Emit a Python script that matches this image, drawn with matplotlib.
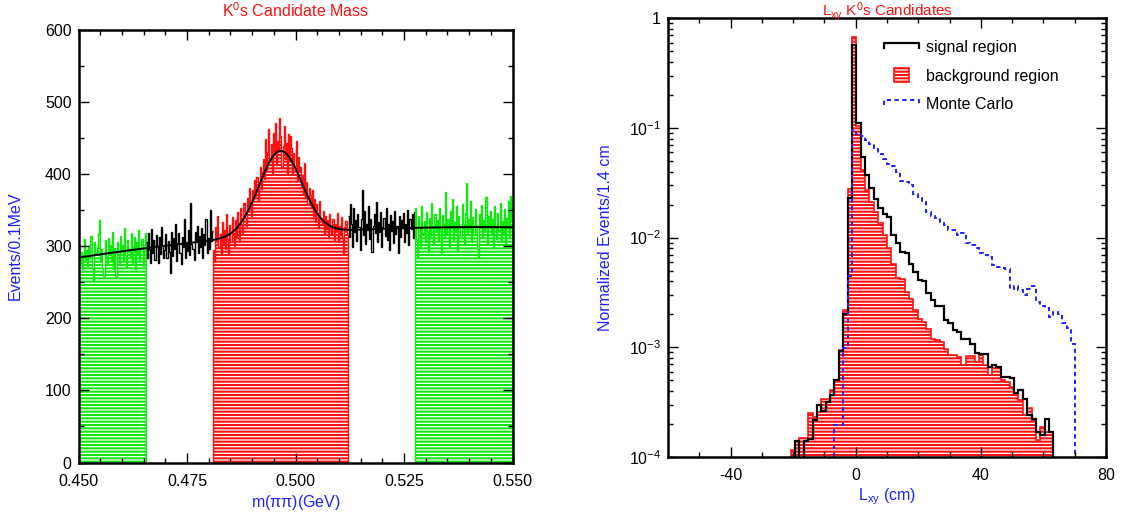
import numpy as np
import matplotlib
matplotlib.use('Agg')
import matplotlib.pyplot as plt
from matplotlib.ticker import MultipleLocator, FormatStrFormatter, LogLocator, FuncFormatter, NullFormatter
from matplotlib.lines import Line2D
from matplotlib.patches import Patch, Rectangle
from matplotlib.legend_handler import HandlerBase

plt.rcParams['font.family'] = ['Liberation Sans', 'DejaVu Sans']
plt.rcParams['mathtext.fontset'] = 'custom'
plt.rcParams['mathtext.rm'] = 'Liberation Sans'
plt.rcParams['mathtext.it'] = 'Liberation Sans:italic'
plt.rcParams['font.size'] = 11.5
plt.rcParams['hatch.linewidth'] = 1.5
plt.rcParams['axes.unicode_minus'] = False

RED = '#ff1010'
GREEN = '#10e810'
BLUE = '#2020ff'

# ---- left panel: pi pi invariant mass, 0.25 MeV bins ----
region_edges = [0.450, 0.4655, 0.481, 0.512, 0.5275, 0.550]

mass_side_lo = [
    301, 276, 292, 268, 288, 310, 281, 295, 272, 300,
    283, 314, 270, 252, 305, 290, 287, 299, 318, 336,
    279, 296, 270, 258, 308, 285, 274, 311, 293, 302,
    281, 320, 268, 297, 258, 306, 289, 276, 314, 295,
    302, 279, 325, 288, 271, 309, 296, 284, 318, 277,
    299, 312, 268, 305, 290, 322, 281, 296, 310, 273, 301, 318]

mass_gap_lo = [
    305, 284, 318, 296, 276, 323, 290, 309, 280, 315,
    298, 277, 312, 289, 326, 301, 284, 294, 317, 283,
    307, 292, 263, 320, 286, 311, 296, 331, 279, 304,
    318, 290, 275, 313, 299, 337, 284, 306, 293, 322,
    288, 360, 303, 296, 281, 319, 305, 328, 291, 314,
    299, 325, 284, 316, 302, 338, 290, 311, 296, 350, 307, 321]

mass_signal = [
    295, 279, 326, 308, 341, 298, 317, 289, 333, 304,
    322, 296, 344, 310, 287, 329, 305, 340, 318, 300,
    336, 312, 347, 326, 306, 352, 331, 318, 360, 339,
    328, 366, 349, 381, 357, 342, 378, 365, 391, 370,
    395, 362, 388, 410, 379, 402, 421, 393, 448, 405,
    430, 462, 418, 441, 400, 456, 427, 470, 412, 446,
    433, 477, 452, 409, 438, 466, 420, 443, 401, 455,
    418, 452, 436, 398, 429, 411, 445, 390, 424, 402,
    409, 381, 398, 372, 415, 366, 389, 358, 380, 371,
    352, 377, 341, 365, 333, 358, 346, 325, 362, 338,
    329, 348, 316, 341, 323, 336, 312, 345, 327, 318,
    338, 309, 331, 322, 346, 305, 328, 317, 340, 312, 290, 327, 334, 316]

mass_gap_hi = [
    341, 312, 358, 330, 298, 352, 319, 336, 307, 345,
    326, 294, 338, 377, 315, 349, 303, 331, 322, 355,
    310, 337, 292, 328, 344, 318, 361, 305, 333, 320,
    347, 299, 326, 339, 314, 352, 308, 330, 295, 343,
    321, 335, 304, 349, 317, 328, 290, 341, 312, 336,
    325, 346, 306, 331, 318, 350, 302, 337, 323, 344, 311, 347]

mass_side_hi = [
    352, 310, 283, 341, 325, 298, 356, 318, 334, 305,
    347, 321, 292, 339, 314, 360, 328, 301, 345, 319,
    336, 307, 352, 324, 290, 343, 330, 312, 375, 317,
    338, 299, 349, 326, 365, 309, 333, 320, 356, 294,
    342, 327, 311, 358, 331, 302, 346, 388, 318, 337,
    323, 362, 305, 340, 315, 351, 329, 296, 283, 344,
    330, 357, 312, 336, 321, 368, 304, 341, 326, 349,
    316, 337, 297, 355, 328, 310, 346, 322, 359, 306,
    334, 318, 351, 300, 339, 325, 362, 313, 370, 336]

# fit: quadratic background + gaussian peak
bkg_a, bkg_b, bkg_c = 317.4, 420.0, -4960.0
peak_mass, peak_sigma, peak_amp = 0.4965, 0.0049, 116.0

# ---- right panel: Lxy, 1.4 cm bins starting at -20.8 cm ----
lxy_start = -20.8
lxy_width = 1.4

lxy_signal = [
    0, 1.39e-4, 0, 1.39e-4, 1.47e-4, 2.16e-4, 2.96e-4, 2.61e-4, 3.18e-4, 3.66e-4,
    5.0e-4, 9.2e-4, 2.03e-3, 2.28e-2, 0.57, 0.110, 0.0546, 0.0372, 0.0281, 0.0223,
    0.0185, 0.0164, 0.0155, 0.0105, 0.0090, 0.0074, 0.0072, 0.0058, 0.0049, 0.0041,
    0.0040, 0.0031, 0.0027, 0.0024, 0.0024, 1.77e-3, 1.65e-3, 1.43e-3, 1.38e-3, 1.20e-3,
    1.20e-3, 1.08e-3, 8.8e-4, 8.7e-4, 8.7e-4, 6.6e-4, 6.9e-4, 6.6e-4, 5.4e-4, 5.4e-4,
    5.2e-4, 3.8e-4, 4.1e-4, 3.4e-4, 2.4e-4, 2.2e-4, 1.7e-4, 1.6e-4, 2.2e-4, 1.7e-4,
    0, 0, 0, 0, 0]

lxy_background = [
    1.15e-4, 1.39e-4, 1.49e-4, 1.49e-4, 2.54e-4, 2.32e-4, 2.58e-4, 3.41e-4, 3.41e-4, 4.06e-4,
    5.0e-4, 9.4e-4, 2.21e-3, 0.0275, 0.68, 0.104, 0.041, 0.027, 0.021, 0.017,
    0.0135, 0.0105, 0.0080, 0.0058, 0.0043, 0.0042, 0.0032, 2.73e-3, 2.21e-3, 1.83e-3,
    1.70e-3, 1.46e-3, 1.20e-3, 1.17e-3, 1.12e-3, 9.75e-4, 8.47e-4, 8.47e-4, 8.2e-4, 6.87e-4,
    8.3e-4, 8.3e-4, 7.36e-4, 8.65e-4, 6.87e-4, 5.56e-4, 6.87e-4, 6.62e-4, 5.0e-4, 4.8e-4,
    4.36e-4, 3.79e-4, 3.29e-4, 2.4e-4, 2.77e-4, 2.16e-4, 1.42e-4, 1.88e-4, 1.69e-4, 1.69e-4,
    0, 0, 0, 0, 0]

lxy_mc = [
    0, 0, 0, 0, 0, 0, 0, 0, 0, 0,
    1.95e-4, 1.95e-4, 9.8e-4, 0.0045, 0.095, 0.088, 0.085, 0.078, 0.072, 0.065,
    0.058, 0.052, 0.047, 0.045, 0.040, 0.033, 0.032, 0.030, 0.025, 0.023,
    0.021, 0.017, 0.0157, 0.0152, 0.0140, 0.0130, 0.0118, 0.0117, 0.0105, 0.0110,
    0.0089, 0.0086, 0.0080, 0.0072, 0.0070, 0.0066, 0.0056, 0.0054, 0.0053, 0.0052,
    0.0034, 0.0036, 0.0033, 0.0030, 0.0034, 0.0036, 0.0026, 0.0024, 0.0023, 0.0019,
    0.0021, 0.0020, 0.00165, 0.0015, 0.00107]


class BracketHandler(HandlerBase):
    # legend line drawn with short downward ends
    def create_artists(self, legend, orig_handle, xdescent, ydescent, width, height, fontsize, trans):
        x0, x1 = -xdescent, -xdescent + width
        ytop = -ydescent + 0.8 * height
        ybot = -ydescent + 0.35 * height
        line = Line2D([x0, x0, x1, x1], [ybot, ytop, ytop, ybot])
        line.update_from(orig_handle)
        line.set_transform(trans)
        return [line]


class BoxHandler(HandlerBase):
    def create_artists(self, legend, orig_handle, xdescent, ydescent, width, height, fontsize, trans):
        w = 0.42 * width
        box = Rectangle((-xdescent + 0.29 * width, -ydescent - 0.1 * height), w, 1.2 * height,
                        facecolor='none', edgecolor=RED, hatch='-----', linewidth=1.2)
        box.set_transform(trans)
        return [box]


def style_axes(ax):
    for sp in ax.spines.values():
        sp.set_linewidth(1.8)
    ax.tick_params(which='both', direction='in', top=True, right=True, width=1.0)
    ax.tick_params(which='major', length=7.5)
    ax.tick_params(which='minor', length=3.6)


fig = plt.figure(figsize=(11.25, 5.18), dpi=100)
ax1 = fig.add_axes([0.0698, 0.1071, 0.3858, 0.8359])
ax2 = fig.add_axes([0.5938, 0.1178, 0.3893, 0.8469])

# left panel
regions = [(mass_side_lo, GREEN, True), (mass_gap_lo, 'black', False), (mass_signal, RED, True),
           (mass_gap_hi, 'black', False), (mass_side_hi, GREEN, True)]
for i, (vals, col, filled) in enumerate(regions):
    edges = np.linspace(region_edges[i], region_edges[i + 1], len(vals) + 1)
    if filled:
        ax1.stairs(vals, edges, baseline=0, fill=True, facecolor='none', edgecolor=col,
                   hatch='-----', linewidth=1.0)
    else:
        ax1.stairs(vals, edges, baseline=None, color='black', linewidth=1.0)

xs = np.linspace(region_edges[0], region_edges[-1], 800)
dx = xs - 0.5
fit = bkg_a + bkg_b * dx + bkg_c * dx**2 + peak_amp * np.exp(-0.5 * ((xs - peak_mass) / peak_sigma)**2)
ax1.plot(xs, fit, color='black', linewidth=1.4, zorder=5)

ax1.set_xlim(0.45, 0.55)
ax1.set_ylim(0, 600)
ax1.xaxis.set_major_locator(MultipleLocator(0.025))
ax1.xaxis.set_minor_locator(MultipleLocator(0.005))
ax1.xaxis.set_major_formatter(FormatStrFormatter('%.3f'))
ax1.yaxis.set_major_locator(MultipleLocator(100))
ax1.yaxis.set_minor_locator(MultipleLocator(50))
style_axes(ax1)
ax1.tick_params(axis='x', pad=8)
ax1.tick_params(axis='y', pad=5)
ax1.set_xlabel(r'm($\mathdefault{\pi\pi}$)(GeV)', color=BLUE)
ax1.set_ylabel('Events/0.1MeV', color=BLUE)
ax1.xaxis.set_label_coords(0.5, -0.07)
ax1.yaxis.set_label_coords(-0.128, 0.5)
ax1.text(0.5, 1.029, r'K$^{\mathdefault{0}}$s Candidate Mass', color=RED, ha='center',
         va='baseline', transform=ax1.transAxes)

# right panel
lxy_edges = np.linspace(lxy_start, lxy_start + lxy_width * len(lxy_signal), len(lxy_signal) + 1)
floor = 1e-6
ax2.stairs(np.clip(lxy_background, floor, None), lxy_edges, baseline=floor, fill=True,
           facecolor='none', edgecolor=RED, hatch='-----', linewidth=1.2)
ax2.stairs(np.clip(lxy_signal, floor, None), lxy_edges, baseline=floor, color='black', linewidth=1.6)
ax2.stairs(np.clip(lxy_mc, floor, None), lxy_edges, baseline=floor, color=BLUE, linewidth=1.4,
           linestyle=(0, (2.2, 1.8)))

ax2.set_yscale('log')
ax2.set_xlim(-60, 80)
ax2.set_ylim(1e-4, 1)
ax2.xaxis.set_major_locator(MultipleLocator(40))
ax2.xaxis.set_minor_locator(MultipleLocator(10))
ax2.yaxis.set_major_locator(LogLocator(base=10))
ax2.yaxis.set_minor_locator(LogLocator(base=10, subs=np.arange(2, 10)))
ax2.yaxis.set_minor_formatter(NullFormatter())


def log_label(v, pos):
    e = int(round(np.log10(v)))
    if e == 0:
        return '1'
    return r'$\mathdefault{10^{%d}}$' % e


ax2.yaxis.set_major_formatter(FuncFormatter(log_label))
style_axes(ax2)
ax2.tick_params(axis='x', pad=8)
ax2.tick_params(axis='y', pad=5)
ax2.set_xlabel(r'L$_{\mathdefault{xy}}$ (cm)', color=BLUE)
ax2.set_ylabel('Normalized Events/1.4 cm', color=BLUE)
ax2.xaxis.set_label_coords(0.5, -0.068)
ax2.yaxis.set_label_coords(-0.126, 0.5)
ax2.text(0.5, 1.006, r'L$_{\mathdefault{xy}}$ K$^{\mathdefault{0}}$s Candidates', color=RED,
         ha='center', va='baseline', fontsize=11, transform=ax2.transAxes)

h_sig = Line2D([], [], color='black', linewidth=1.6)
h_bkg = Patch(facecolor='none', edgecolor=RED, hatch='-----')
h_mc = Line2D([], [], color=BLUE, linewidth=1.4, linestyle=(0, (2.2, 1.8)))
ax2.legend([h_sig, h_bkg, h_mc], ['signal region', 'background region', 'Monte Carlo'],
           handler_map={Line2D: BracketHandler(), Patch: BoxHandler()},
           loc='upper left', bbox_to_anchor=(0.493, 0.95), frameon=False,
           handlelength=2.2, handletextpad=0.45, labelspacing=0.85, borderpad=0,
           borderaxespad=0)

fig.savefig('out.png', dpi=100)
